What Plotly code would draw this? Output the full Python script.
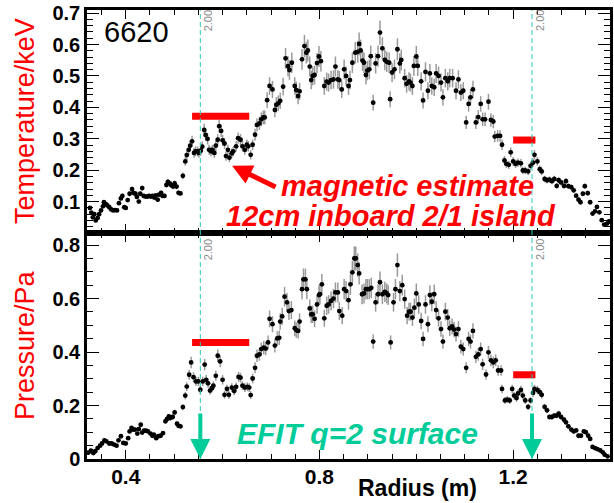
import plotly.graph_objects as go
from plotly.subplots import make_subplots

# Shot 6620: Thomson scattering electron temperature and pressure vs major radius
r_te = [
    0.326, 0.329, 0.332, 0.335, 0.338, 0.342, 0.345, 0.349, 0.353, 0.355,
    0.359, 0.362, 0.366, 0.370, 0.374, 0.378, 0.382, 0.386, 0.390, 0.393,
    0.397, 0.400, 0.404, 0.408, 0.413, 0.416, 0.420, 0.423, 0.427, 0.430,
    0.434, 0.437, 0.441, 0.445, 0.448, 0.452, 0.455, 0.459, 0.462, 0.466,
    0.469, 0.473, 0.476, 0.480, 0.484, 0.487, 0.491, 0.494, 0.498, 0.501,
    0.505, 0.509, 0.513, 0.518, 0.523, 0.526, 0.530, 0.533, 0.537, 0.541,
    0.544, 0.548, 0.551, 0.555, 0.558, 0.562, 0.565, 0.569, 0.572, 0.576,
    0.579, 0.583, 0.586, 0.590, 0.593, 0.597, 0.600, 0.604, 0.607, 0.611,
    0.614, 0.619, 0.622, 0.628, 0.632, 0.637, 0.641, 0.646, 0.650, 0.653,
    0.658, 0.662, 0.667, 0.671, 0.676, 0.680, 0.684, 0.687, 0.692, 0.697,
    0.703, 0.708, 0.711, 0.715, 0.719, 0.725, 0.730, 0.735, 0.738, 0.743,
    0.749, 0.752, 0.756, 0.759, 0.764, 0.769, 0.773, 0.776, 0.780, 0.783,
    0.786, 0.790, 0.795, 0.799, 0.803, 0.810, 0.815, 0.819, 0.824, 0.829,
    0.833, 0.838, 0.841, 0.846, 0.851, 0.855, 0.860, 0.863, 0.868, 0.874,
    0.879, 0.882, 0.885, 0.889, 0.892, 0.896, 0.899, 0.903, 0.906, 0.911,
    0.916, 0.921, 0.925, 0.930, 0.935, 0.939, 0.944, 0.946, 0.950, 0.955,
    0.961, 0.966, 0.969, 0.976, 0.980, 0.985, 0.988, 0.992, 0.995, 1.000,
    1.003, 1.010, 1.014, 1.019, 1.024, 1.028, 1.032, 1.037, 1.041, 1.046,
    1.051, 1.055, 1.060, 1.065, 1.069, 1.075, 1.082, 1.087, 1.092, 1.097,
    1.103, 1.108, 1.112, 1.117, 1.123, 1.128, 1.133, 1.137, 1.142, 1.149,
    1.154, 1.159, 1.162, 1.168, 1.173, 1.177, 1.182, 1.186, 1.191, 1.195,
    1.200, 1.205, 1.210, 1.216, 1.220, 1.225, 1.231, 1.236, 1.241, 1.244,
    1.250, 1.255, 1.259, 1.265, 1.270, 1.275, 1.280, 1.285, 1.290, 1.294,
    1.299, 1.305, 1.309, 1.314, 1.320, 1.325, 1.330, 1.335, 1.339, 1.344,
    1.348, 1.354, 1.359, 1.364, 1.369, 1.373, 1.378, 1.383, 1.388, 1.394,
    1.398,
]
te_kev = [
    0.080, 0.065, 0.050, 0.060, 0.040, 0.048, 0.060, 0.072, 0.085, 0.098,
    0.092, 0.088, 0.082, 0.075, 0.072, 0.073, 0.072, 0.095, 0.110, 0.118,
    0.082, 0.080, 0.105, 0.125, 0.140, 0.128, 0.125, 0.115, 0.100, 0.125,
    0.143, 0.118, 0.116, 0.116, 0.118, 0.116, 0.118, 0.113, 0.120, 0.106,
    0.122, 0.128, 0.118, 0.118, 0.153, 0.163, 0.158, 0.152, 0.148, 0.158,
    0.148, 0.128, 0.126, 0.182, 0.228, 0.248, 0.265, 0.278, 0.292, 0.255,
    0.260, 0.260, 0.255, 0.262, 0.275, 0.328, 0.312, 0.300, 0.265, 0.260,
    0.265, 0.255, 0.278, 0.297, 0.340, 0.325, 0.295, 0.285, 0.245, 0.265,
    0.240, 0.254, 0.260, 0.276, 0.302, 0.297, 0.276, 0.265, 0.281, 0.276,
    0.249, 0.281, 0.313, 0.344, 0.349, 0.362, 0.368, 0.368, 0.423, 0.468,
    0.457, 0.392, 0.408, 0.413, 0.421, 0.466, 0.556, 0.531, 0.519, 0.542,
    0.468, 0.455, 0.436, 0.451, 0.553, 0.595, 0.574, 0.581, 0.530, 0.487,
    0.500, 0.503, 0.541, 0.562, 0.547, 0.468, 0.482, 0.479, 0.487, 0.489,
    0.530, 0.489, 0.487, 0.457, 0.521, 0.500, 0.468, 0.487, 0.542, 0.574,
    0.577, 0.602, 0.581, 0.549, 0.542, 0.503, 0.517, 0.521, 0.563, 0.415,
    0.540, 0.563, 0.638, 0.588, 0.551, 0.545, 0.542, 0.426, 0.511, 0.521,
    0.585, 0.540, 0.551, 0.493, 0.475, 0.483, 0.479, 0.468, 0.532, 0.562,
    0.532, 0.483, 0.422, 0.513, 0.453, 0.508, 0.468, 0.464, 0.508, 0.500,
    0.479, 0.432, 0.493, 0.483, 0.493, 0.493, 0.453, 0.489, 0.447, 0.453,
    0.352, 0.411, 0.432, 0.457, 0.352, 0.369, 0.411, 0.362, 0.362, 0.418,
    0.360, 0.355, 0.307, 0.309, 0.309, 0.281, 0.231, 0.220, 0.217, 0.257,
    0.228, 0.220, 0.224, 0.222, 0.199, 0.199, 0.196, 0.214, 0.224, 0.249,
    0.228, 0.203, 0.196, 0.172, 0.168, 0.170, 0.165, 0.172, 0.150, 0.168,
    0.161, 0.150, 0.165, 0.149, 0.146, 0.136, 0.119, 0.106, 0.098, 0.125,
    0.149, 0.127, 0.098, 0.062, 0.069, 0.083, 0.066, 0.041, 0.027, 0.030,
    0.037,
]

r_pe = [
    0.323, 0.328, 0.333, 0.337, 0.342, 0.347, 0.351, 0.356, 0.360, 0.366,
    0.371, 0.376, 0.381, 0.385, 0.390, 0.395, 0.400, 0.405, 0.408, 0.412,
    0.415, 0.419, 0.424, 0.427, 0.431, 0.434, 0.438, 0.442, 0.446, 0.451,
    0.455, 0.458, 0.463, 0.467, 0.472, 0.477, 0.482, 0.485, 0.489, 0.492,
    0.497, 0.501, 0.506, 0.509, 0.513, 0.518, 0.523, 0.526, 0.531, 0.535,
    0.540, 0.545, 0.550, 0.554, 0.559, 0.563, 0.566, 0.570, 0.574, 0.578,
    0.581, 0.586, 0.590, 0.595, 0.600, 0.604, 0.609, 0.613, 0.619, 0.624,
    0.628, 0.633, 0.637, 0.641, 0.646, 0.651, 0.655, 0.658, 0.662, 0.667,
    0.671, 0.676, 0.680, 0.685, 0.689, 0.694, 0.697, 0.703, 0.708, 0.713,
    0.717, 0.719, 0.723, 0.728, 0.733, 0.737, 0.742, 0.749, 0.752, 0.756,
    0.759, 0.764, 0.767, 0.771, 0.774, 0.780, 0.783, 0.786, 0.790, 0.795,
    0.799, 0.801, 0.805, 0.810, 0.815, 0.819, 0.824, 0.829, 0.833, 0.838,
    0.841, 0.847, 0.851, 0.855, 0.860, 0.864, 0.868, 0.872, 0.875, 0.879,
    0.882, 0.888, 0.892, 0.896, 0.899, 0.903, 0.907, 0.911, 0.916, 0.921,
    0.925, 0.930, 0.935, 0.939, 0.942, 0.947, 0.953, 0.957, 0.961, 0.966,
    0.971, 0.976, 0.981, 0.985, 0.988, 0.992, 0.996, 1.000, 1.005, 1.010,
    1.014, 1.019, 1.024, 1.028, 1.032, 1.037, 1.041, 1.046, 1.051, 1.055,
    1.060, 1.065, 1.069, 1.074, 1.078, 1.082, 1.087, 1.092, 1.097, 1.103,
    1.108, 1.112, 1.117, 1.123, 1.128, 1.133, 1.137, 1.144, 1.149, 1.154,
    1.159, 1.164, 1.169, 1.175, 1.177, 1.183, 1.188, 1.193, 1.198, 1.202,
    1.207, 1.210, 1.216, 1.220, 1.225, 1.231, 1.236, 1.241, 1.244, 1.250,
    1.255, 1.259, 1.265, 1.270, 1.275, 1.280, 1.285, 1.290, 1.294, 1.299,
    1.305, 1.309, 1.314, 1.320, 1.325, 1.330, 1.335, 1.340, 1.346, 1.350,
    1.355, 1.359, 1.364, 1.369, 1.374, 1.380, 1.385, 1.389, 1.395,
]
pe_pa = [
    0.024, 0.031, 0.022, 0.029, 0.041, 0.050, 0.058, 0.070, 0.066, 0.058,
    0.058, 0.054, 0.050, 0.070, 0.085, 0.060, 0.058, 0.078, 0.103, 0.116,
    0.110, 0.110, 0.095, 0.112, 0.128, 0.099, 0.106, 0.106, 0.103, 0.095,
    0.087, 0.091, 0.078, 0.085, 0.087, 0.097, 0.141, 0.149, 0.159, 0.153,
    0.157, 0.174, 0.132, 0.124, 0.122, 0.194, 0.237, 0.271, 0.315, 0.361,
    0.306, 0.290, 0.290, 0.259, 0.290, 0.353, 0.296, 0.283, 0.256, 0.265,
    0.274, 0.311, 0.386, 0.365, 0.296, 0.240, 0.262, 0.240, 0.267, 0.254,
    0.270, 0.307, 0.304, 0.274, 0.267, 0.270, 0.267, 0.239, 0.301, 0.341,
    0.386, 0.391, 0.411, 0.416, 0.413, 0.436, 0.524, 0.504, 0.424, 0.451,
    0.453, 0.514, 0.533, 0.607, 0.586, 0.553, 0.557, 0.489, 0.482, 0.479,
    0.514, 0.635, 0.672, 0.672, 0.635, 0.563, 0.541, 0.541, 0.524, 0.578,
    0.613, 0.616, 0.653, 0.526, 0.573, 0.578, 0.591, 0.600, 0.623, 0.623,
    0.553, 0.536, 0.635, 0.628, 0.594, 0.653, 0.698, 0.750, 0.750, 0.725,
    0.694, 0.616, 0.619, 0.635, 0.635, 0.635, 0.640, 0.439, 0.586, 0.616,
    0.661, 0.616, 0.625, 0.619, 0.613, 0.436, 0.586, 0.635, 0.725, 0.628,
    0.650, 0.598, 0.536, 0.551, 0.551, 0.529, 0.566, 0.619, 0.578, 0.516,
    0.449, 0.578, 0.504, 0.613, 0.588, 0.616, 0.557, 0.526, 0.486, 0.439,
    0.551, 0.529, 0.489, 0.496, 0.484, 0.467, 0.486, 0.420, 0.411, 0.341,
    0.449, 0.439, 0.479, 0.382, 0.391, 0.411, 0.354, 0.316, 0.399, 0.369,
    0.361, 0.369, 0.331, 0.331, 0.262, 0.219, 0.222, 0.219, 0.262, 0.237,
    0.228, 0.245, 0.258, 0.237, 0.219, 0.195, 0.219, 0.247, 0.262, 0.258,
    0.250, 0.240, 0.195, 0.182, 0.157, 0.157, 0.162, 0.162, 0.170, 0.157,
    0.147, 0.137, 0.122, 0.110, 0.103, 0.107, 0.087, 0.087, 0.103, 0.100,
    0.087, 0.075, 0.045, 0.041, 0.037, 0.032, 0.025, 0.016, 0.010,
]
rel_err_pct = 6          # relative measurement uncertainty, percent

# EFIT q=2 surface radii and magnetically estimated island extents
q2_radii = [0.554, 1.239]
island_spans = [[0.537, 0.655], [1.200, 1.246]]
island_te = [0.372, 0.296]
island_pe = [0.436, 0.315]

x_range = [0.32, 1.40]
te_range = [0, 0.71]
pe_range = [0, 0.845]
x_ticks = [0.4, 0.8, 1.2]
te_ticks = [0.1, 0.2, 0.3, 0.4, 0.5, 0.6, 0.7]
pe_ticks = [0, 0.2, 0.4, 0.6, 0.8]

FONT = "Liberation Sans, Arial, sans-serif"
RED = "#ff0000"
GREEN = "#00cc99"
DASH = "#2ec8b8"

fig = make_subplots(rows=2, cols=1, shared_xaxes=True, vertical_spacing=0)

for row, (r, vals) in enumerate([(r_te, te_kev), (r_pe, pe_pa)], start=1):
    fig.add_trace(go.Scatter(
        x=r, y=vals, mode="markers",
        marker=dict(color="black", size=4.8),
        error_y=dict(type="percent", value=rel_err_pct, color="#9a9a9a",
                     thickness=1.5, width=0),
        showlegend=False, hoverinfo="skip"), row=row, col=1)

for span, lev_te, lev_pe in zip(island_spans, island_te, island_pe):
    fig.add_trace(go.Scatter(x=span, y=[lev_te, lev_te], mode="lines",
                             line=dict(color=RED, width=7), showlegend=False),
                  row=1, col=1)
    fig.add_trace(go.Scatter(x=span, y=[lev_pe, lev_pe], mode="lines",
                             line=dict(color=RED, width=7), showlegend=False),
                  row=2, col=1)

frame = dict(showline=True, linecolor="black", linewidth=2.5, mirror="ticks",
             ticks="inside", tickcolor="black", tickwidth=1,
             showgrid=False, zeroline=False)

fig.update_xaxes(range=x_range, tickmode="array", tickvals=x_ticks,
                 ticktext=[f"{v:g}" for v in x_ticks], ticklen=9,
                 minor=dict(ticks="inside", ticklen=5, tickmode="linear",
                            tick0=0, dtick=0.05, tickcolor="black"),
                 **frame)
fig.update_xaxes(showticklabels=False, row=1, col=1)
fig.update_xaxes(tickfont=dict(family=FONT, size=21, color="black", weight="bold"),
                 ticklabelstandoff=-3, row=2, col=1)

yfont = dict(family=FONT, size=20, color="black", weight="bold")
fig.update_yaxes(range=te_range, tickmode="array", tickvals=te_ticks,
                 ticktext=[f"{v:g}" for v in te_ticks], ticklen=12,
                 minor=dict(ticks="inside", ticklen=6, tickmode="linear",
                            tick0=0, dtick=0.02, tickcolor="black"),
                 tickfont=yfont, domain=[0.5033, 1], row=1, col=1, **frame)
fig.update_yaxes(range=pe_range, tickmode="array", tickvals=pe_ticks,
                 ticktext=[f"{v:g}" for v in pe_ticks], ticklen=12,
                 minor=dict(ticks="inside", ticklen=6, tickmode="linear",
                            tick0=0, dtick=0.05, tickcolor="black"),
                 tickfont=yfont, domain=[0, 0.5033], row=2, col=1, **frame)

shapes = []
for rq in q2_radii:
    shapes.append(dict(type="line", xref="x", yref="paper", x0=rq, x1=rq,
                       y0=0, y1=1, line=dict(color=DASH, width=1, dash="5px,3px")))

ann = []
# q-value markers next to the dashed lines
for rq in q2_radii:
    for ypos in (0.9755, 0.4655):
        ann.append(dict(x=rq, y=ypos, xref="x", yref="paper", text="2.00",
                        showarrow=False, textangle=-90, xshift=8,
                        xanchor="center", yanchor="middle",
                        font=dict(family=FONT, size=11, color="#8a8a8a")))
    # EFIT q=2 surface arrows
    ann.append(dict(x=rq, y=0, xref="x2", yref="y2", text="", showarrow=True,
                    ax=0, ay=-47, arrowhead=2, arrowsize=1, arrowwidth=4,
                    arrowcolor=GREEN))


def label(x, y, text, size, color, **kw):
    d = dict(x=x, y=y, xref="paper", yref="paper", text=text, showarrow=False,
             xanchor="center", yanchor="middle",
             font=dict(family=FONT, size=size, color=color))
    d.update(kw)
    return d


ann += [
    dict(x=0.6195, y=0.214, xref="x", yref="y", text="", showarrow=True,
         ax=45, ay=22, arrowhead=2, arrowsize=0.8, arrowwidth=5, arrowcolor=RED),
    label(0.612, 0.608, "<b><i>magnetic estimate</i></b>", 29, RED),
    label(0.582, 0.541, "<b><i>12cm inboard 2/1 island</i></b>", 29, RED),
    label(0.517, 0.0557, "<b><i>EFIT q=2 surface</i></b>", 30, GREEN),
    label(0.095, 0.951, "6620", 29, "black"),
    label(0, 0.753, "Temperature/keV", 27, RED, textangle=-90, xshift=-62),
    label(0, 0.254, "Pressure/Pa", 27, RED, textangle=-90, xshift=-62),
    label(0.632, 0, "<b>Radius (m)</b>", 23, "black", yshift=-29),
]

fig.update_layout(width=614, height=503,
                  margin=dict(l=87, r=1, t=10, b=44),
                  paper_bgcolor="white", plot_bgcolor="white",
                  shapes=shapes, annotations=ann, showlegend=False,
                  font=dict(family=FONT))

fig.write_html("out.html")
